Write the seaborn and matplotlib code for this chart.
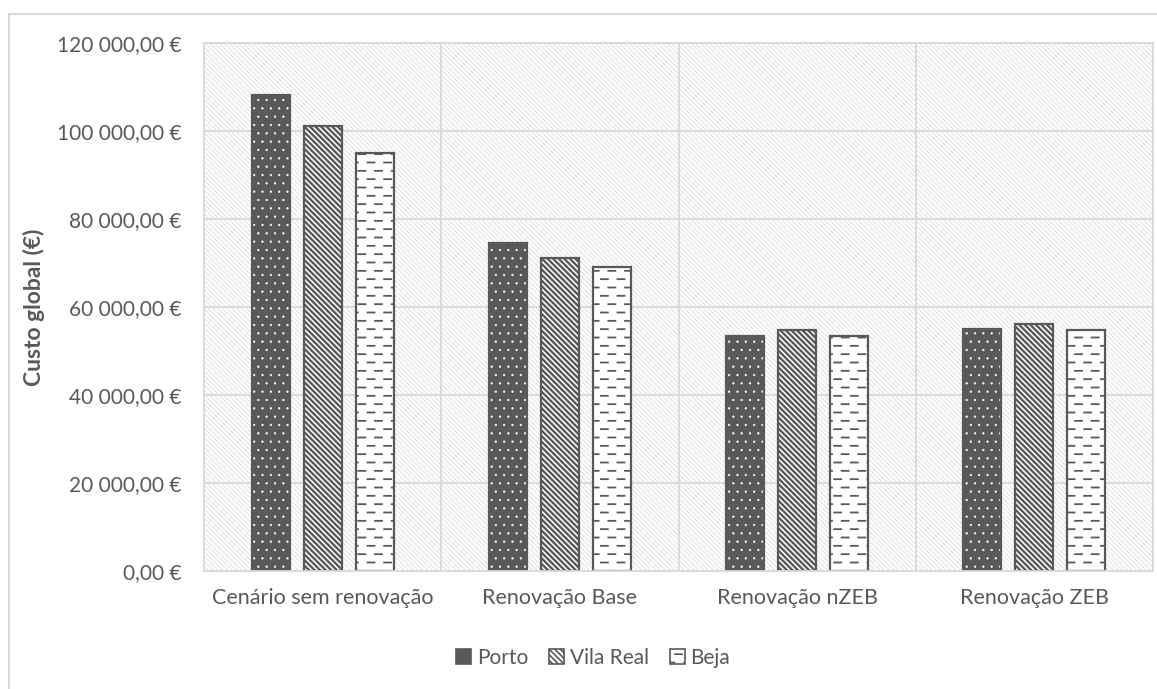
import matplotlib
matplotlib.use("Agg")
import matplotlib.pyplot as plt
import matplotlib.hatch as mhatch
from matplotlib.path import Path
from matplotlib.patches import Rectangle, Patch
from matplotlib.ticker import FuncFormatter, MultipleLocator
import seaborn as sns
import pandas as pd

# Global cost per renovation scenario and location
categories = ["Cenário sem renovação", "Renovação Base", "Renovação nZEB", "Renovação ZEB"]
locations = ["Porto", "Vila Real", "Beja"]
porto = [108100, 74500, 53500, 55000]
vila_real = [101200, 71200, 54700, 56100]
beja = [94900, 69200, 53500, 54700]

df = pd.DataFrame({
    "cenario": categories * 3,
    "local": [loc for loc in locations for _ in categories],
    "custo": porto + vila_real + beja,
})


class DashedHorizontalHatch(mhatch.HatchPatternBase):
    """Horizontal hatch drawn as staggered short dashes."""

    def __init__(self, hatch, density):
        self.num_lines = int((hatch.count('-') + hatch.count('+')) * density)
        self.num_dashes = 6
        self.num_vertices = self.num_lines * self.num_dashes * 2

    def set_vertices_and_codes(self, vertices, codes):
        n, d = self.num_lines, self.num_dashes
        if n == 0:
            return
        dash = 0.42 / d
        k = 0
        for i in range(n):
            y = (i + 0.5) / n
            off = 0.5 / d if i % 2 else 0.05 / d
            for j in range(d):
                x0 = j / d + off
                vertices[k] = (x0, y)
                vertices[k + 1] = (x0 + dash, y)
                codes[k] = Path.MOVETO
                codes[k + 1] = Path.LINETO
                k += 2


mhatch._hatch_types = [DashedHorizontalHatch if t is mhatch.HorizontalHatch else t
                       for t in mhatch._hatch_types]

sns.set_theme(style="white")
plt.rcParams["font.family"] = ["Lato", "DejaVu Sans"]
plt.rcParams["hatch.linewidth"] = 1.2

DARK = "#595959"
GRID = "#d9d9d9"
TEXT = "#595959"

fig = plt.figure(figsize=(11.57, 6.89), dpi=100)
ax = fig.add_axes([204 / 1157, 1 - 571 / 689, 949 / 1157, 528 / 689])

sns.barplot(
    data=df, x="cenario", y="custo", hue="local", hue_order=locations,
    order=categories, palette=[DARK, "white", "white"],
    width=0.658, gap=0.27, ax=ax, legend=False, errorbar=None,
    linewidth=0, saturation=1,
)

# Hatch styles per location
styles = {
    "Porto": dict(face=DARK, hatch_col="white", hatch="..", hlw=0.4),
    "Vila Real": dict(face="white", hatch_col=DARK, hatch="\\" * 6, hlw=1.7),
    "Beja": dict(face="white", hatch_col=DARK, hatch="--", hlw=1.3),
}

for loc, cont in zip(locations, ax.containers):
    st = styles[loc]
    for bar in cont:
        bar.set_facecolor(st["face"])
        bar.set_edgecolor(st["hatch_col"])
        bar.set_hatch(st["hatch"])
        bar.set_linewidth(0)
        if hasattr(bar, "set_hatch_linewidth"):
            bar.set_hatch_linewidth(st["hlw"])
        outline = Rectangle(bar.get_xy(), bar.get_width(), bar.get_height(),
                            fill=False, edgecolor=DARK, linewidth=1.6, zorder=bar.get_zorder() + 0.1)
        ax.add_patch(outline)

# Plot area background with light diagonal hatching
ax.patch.set_facecolor("white")
ax.patch.set_edgecolor("#e0e0e0")
ax.patch.set_hatch("\\" * 7)
if hasattr(ax.patch, "set_hatch_linewidth"):
    ax.patch.set_hatch_linewidth(0.7)

ax.set_ylim(0, 120000)
ax.set_xlim(-0.5, len(categories) - 0.5)
ax.yaxis.set_major_locator(MultipleLocator(20000))


def euro(v, pos):
    s = f"{v:,.2f}".replace(",", " ").replace(".", ",")
    return f"{s} €"


ax.yaxis.set_major_formatter(FuncFormatter(euro))

# Gridlines: horizontal at ticks, vertical between categories
ax.set_axisbelow(True)
ax.grid(axis="y", color=GRID, linewidth=1.3)
for xb in [0.5, 1.5, 2.5]:
    ax.axvline(xb, color=GRID, linewidth=1.3, zorder=0.5)

for side in ["left", "right", "top", "bottom"]:
    ax.spines[side].set_color(GRID)
    ax.spines[side].set_linewidth(1.3)

ax.tick_params(axis="both", length=0, labelsize=15, colors=TEXT)
ax.tick_params(axis="x", labelsize=15.5, pad=12)
ax.tick_params(axis="y", pad=16)
ax.set_xlabel("")
ax.set_ylabel("Custo global (€)", fontsize=16.5, fontweight="bold", color=TEXT)
ax.yaxis.set_label_coords(-0.168, 0.5)

# Legend
handles = [
    Patch(facecolor=styles[l]["face"], edgecolor=styles[l]["hatch_col"], hatch=styles[l]["hatch"], linewidth=0)
    for l in locations
]
leg = fig.legend(handles, locations, loc="center", bbox_to_anchor=(593 / 1157, 0.045), ncol=3,
                 frameon=False, fontsize=15, handlelength=0.75, handleheight=0.75,
                 handletextpad=0.25, columnspacing=1.0, labelcolor=TEXT)
for h in leg.legend_handles:
    h.set_edgecolor(DARK)
    h.set_linewidth(1.2)

# Chart frame
fig.add_artist(Rectangle((9 / 1157, -0.2), 1.2, 0.2 + 1 - 14 / 689, transform=fig.transFigure,
                         fill=False, edgecolor=GRID, linewidth=1.5, clip_on=False))

fig.savefig("out.png", dpi=100, facecolor="white")
